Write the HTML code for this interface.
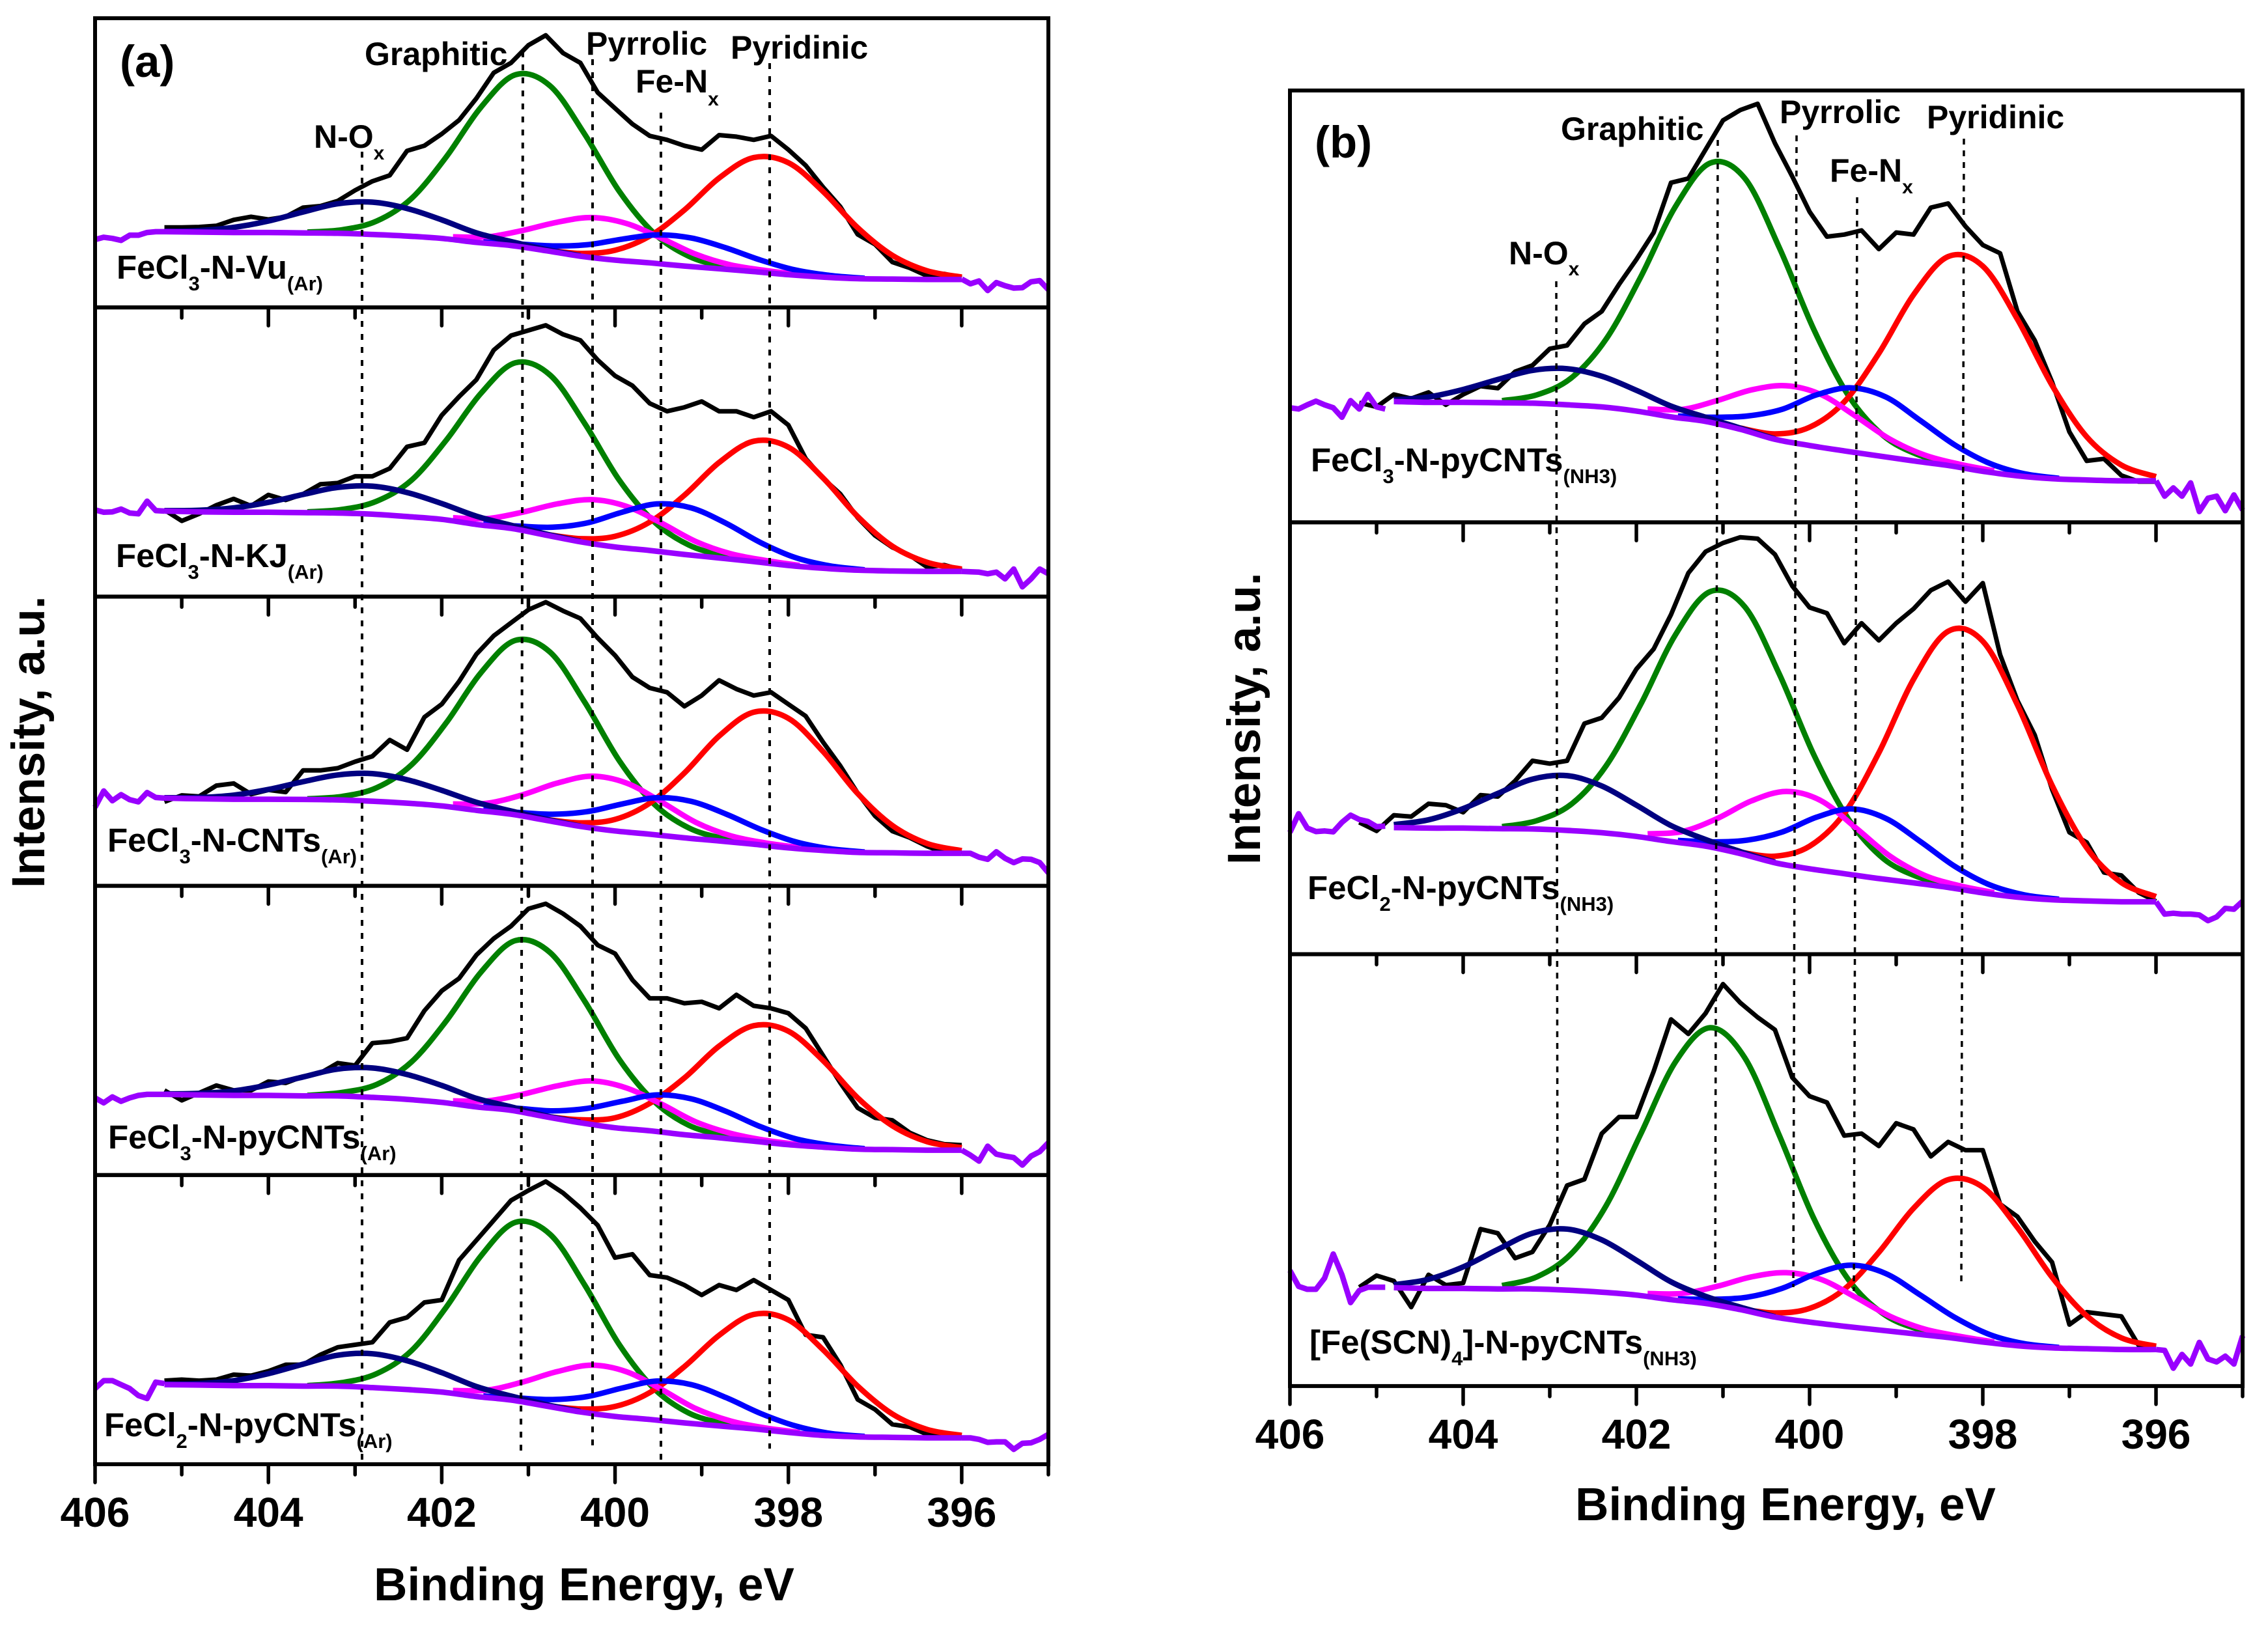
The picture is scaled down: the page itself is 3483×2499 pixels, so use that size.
<!DOCTYPE html>
<html lang="en">
<head>
<meta charset="utf-8">
<title>N 1s XPS spectra</title>
<style>
html,body{margin:0;padding:0;background:#fff}
svg{position:absolute;left:0;top:0;display:block}
text{font-family:"Liberation Sans",Arial,sans-serif;font-weight:bold;fill:#000}
</style>
</head>
<body>
<svg id="chart" xmlns="http://www.w3.org/2000/svg" width="3483" height="2499" viewBox="0 0 3483 2499">
<rect x="0" y="0" width="3483" height="2499" fill="#fff"/>
<g id="marks"></g>
<g id="frames"></g>

<g stroke="#000" stroke-width="4" stroke-dasharray="9 11" fill="none">
<line x1="556" y1="233" x2="556" y2="2248"/>
<line x1="803" y1="79" x2="800" y2="2237"/>
<line x1="910" y1="91" x2="910" y2="2221"/>
<line x1="1015" y1="173" x2="1015" y2="2248"/>
<line x1="1182" y1="97" x2="1182" y2="2225"/>
</g>
<g stroke="#000" stroke-width="3.5" stroke-dasharray="9 9" fill="none">
<line x1="2390" y1="432" x2="2392" y2="1977"/>
<line x1="2638" y1="215" x2="2634" y2="1977"/>
<line x1="2759" y1="208" x2="2754" y2="1977"/>
<line x1="2852" y1="303" x2="2847" y2="1983"/>
<line x1="3016" y1="213" x2="3012" y2="1972"/>
</g>

<text x="184" y="118" font-size="69">(a)</text>
<text x="2019" y="242" font-size="69">(b)</text>

<g font-size="50">
<text x="560" y="100">Graphitic</text>
<text x="900" y="84">Pyrrolic</text>
<text x="1122" y="90">Pyridinic</text>
<text x="976" y="142">Fe-N<tspan font-size="30" dy="20">x</tspan></text>
<text x="482" y="227">N-O<tspan font-size="30" dy="18">x</tspan></text>

<text x="2397" y="215">Graphitic</text>
<text x="2733" y="189">Pyrrolic</text>
<text x="2959" y="197">Pyridinic</text>
<text x="2810" y="279">Fe-N<tspan font-size="30" dy="18">x</tspan></text>
<text x="2317" y="406">N-O<tspan font-size="30" dy="17">x</tspan></text>
</g>

<g font-size="51">
<text x="179" y="428">FeCl<tspan font-size="31" dy="18">3</tspan><tspan dy="-18">-N-Vu</tspan><tspan font-size="31" dy="18">(Ar)</tspan></text>
<text x="178" y="871">FeCl<tspan font-size="31" dy="18">3</tspan><tspan dy="-18">-N-KJ</tspan><tspan font-size="31" dy="18">(Ar)</tspan></text>
<text x="165" y="1308">FeCl<tspan font-size="31" dy="18">3</tspan><tspan dy="-18">-N-CNTs</tspan><tspan font-size="31" dy="18">(Ar)</tspan></text>
<text x="166" y="1764">FeCl<tspan font-size="31" dy="18">3</tspan><tspan dy="-18">-N-pyCNTs</tspan><tspan font-size="31" dy="18">(Ar)</tspan></text>
<text x="160" y="2206">FeCl<tspan font-size="31" dy="18">2</tspan><tspan dy="-18">-N-pyCNTs</tspan><tspan font-size="31" dy="18">(Ar)</tspan></text>

<text x="2013" y="724">FeCl<tspan font-size="31" dy="18">3</tspan><tspan dy="-18">-N-pyCNTs</tspan><tspan font-size="31" dy="18">(NH3)</tspan></text>
<text x="2008" y="1381">FeCl<tspan font-size="31" dy="18">2</tspan><tspan dy="-18">-N-pyCNTs</tspan><tspan font-size="31" dy="18">(NH3)</tspan></text>
<text x="2011" y="2079">[Fe(SCN)<tspan font-size="31" dy="18">4</tspan><tspan dy="-18">]-N-pyCNTs</tspan><tspan font-size="31" dy="18">(NH3)</tspan></text>
</g>

<text x="897" y="2458" font-size="71" text-anchor="middle">Binding Energy, eV</text>
<text x="2742" y="2335" font-size="71" text-anchor="middle">Binding Energy, eV</text>
<text font-size="71" transform="translate(68,1364) rotate(-90)">Intensity, a.u.</text>
<text font-size="71" transform="translate(1935,1328) rotate(-90)">Intensity, a.u.</text>
</svg>

<script>
// ---- energies (eV) ----
const blackEnergy = [405.2,405,404.8,404.6,404.4,404.2,404,403.8,403.6,403.4,403.2,403,402.8,402.6,402.4,402.2,402,401.8,401.6,401.4,401.2,401,400.8,400.6,400.4,400.2,400,399.8,399.6,399.4,399.2,399,398.8,398.6,398.4,398.2,398,397.8,397.6,397.4,397.2,397,396.8,396.6,396.4,396.2,396];
const baseEnergyA = [405.2,404.8,404.4,404,403.6,403.2,402.8,402.4,402,401.6,401.2,400.8,400.4,400,399.6,399.2,398.8,398.4,398,397.6,397.2,396.8,396.4,396];
const baseEnergyB = [404.8,404.4,404,403.6,403.2,402.8,402.4,402,401.6,401.2,400.8,400.4,400,399.6,399.2,398.8,398.4,398,397.6,397.2,396.8,396.4,396];
const greenEnergy = [403.55,403.15,402.75,402.35,401.95,401.55,401.15,400.75,400.35,399.95,399.55,399.15,398.75,398.35];
const redEnergy = [400.8,400.4,400,399.6,399.2,398.8,398.4,398,397.6,397.2,396.8,396.4,396];
const magentaEnergy = [401.87,401.47,401.07,400.67,400.27,399.87,399.47,399.07,398.67,398.27,397.87];
const blueEnergy = [401.52,401.12,400.72,400.32,399.92,399.52,399.12,398.72,398.32,397.92,397.52,397.12];
const navyEnergyA = [405.2,404.8,404.4,404,403.6,403.2,402.8,402.4,402,401.6,401.2,400.8,400.4];
const navyEnergyB = [404.8,404.4,404,403.6,403.2,402.8,402.4,402,401.6,401.2,400.8,400.4];
const leftTailEnergyA = [406,405.9,405.8,405.7,405.6,405.5,405.4,405.3,405.2];
const leftTailEnergyB = [406,405.9,405.8,405.7,405.6,405.5,405.4,405.3,405.2,405.1,405,404.9];
const rightTailEnergy = [396,395.9,395.8,395.7,395.6,395.5,395.4,395.3,395.2,395.1,395];

// ---- axis ticks ----
const tickEnergies = [406,405,404,403,402,401,400,399,398,397,396,395];
const tickLabels = ['406','404','402','400','398','396'];
const panelFullScale = [733.3,733.3,1332.6,581,581,1040,1507,1040];

// ---- FeCl3-N-Vu(Ar) ----
const a1Black = [203,203,204,207,222,230,223,230,253,257,270,297,320,335,397,410,440,475,530,595,620,665,690,645,620,545,505,465,435,425,410,400,437,433,425,435,400,360,305,255,185,160,115,100,80,85,75];
const a1Base = [192,191,190,190,189,188,185,181,175,165,157,144,130,120,113,105,98,91,83,77,73,72,71,71];
const a1Green = [191,197,219,276,381,507,590,562,439,294,188,130,104,92];
const a1Red = [146,137,145,181,247,328,380,367,294,202,132,93,77];
const a1Magenta = [179,179,195,216,228,213,176,135,108,94,83];
const a1Blue = [166,161,156,159,173,184,176,151,120,95,81,74];
const a1Navy = [193,195,203,219,242,263,267,251,222,189,167,147,131];
const a1TailL = [172,178,175,170,183,183,190,192,192];
const a1TailR = [72,60,67,43,63,55,49,50,65,68,45];

// ---- FeCl3-N-KJ(Ar) ----
const a2Black = [220,192,210,232,248,230,258,245,260,285,288,305,305,325,380,390,460,507,550,625,662,675,688,665,650,600,560,535,490,470,480,495,470,470,455,470,435,350,300,260,200,155,125,105,75,80,68];
const a2Base = [217,215,214,214,213,212,209,203,196,183,173,156,139,126,117,107,98,89,79,72,67,65,64,64];
const a2Green = [215,221,242,295,396,515,593,562,439,295,190,131,104,90];
const a2Red = [158,147,153,189,257,340,394,379,301,203,128,87,70];
const a2Magenta = [200,198,214,235,246,229,187,140,109,92,79];
const a2Blue = [184,179,176,187,214,235,225,186,137,99,78,68];
const a2Navy = [218,219,225,239,259,277,280,264,236,204,181,159,140];
const a2TailL = [220,214,215,222,212,210,242,218,217];
const a2TailR = [64,63,62,58,62,45,70,25,45,70,58];

// ---- FeCl3-N-CNTs(Ar) ----
const a3Black = [387,417,412,462,472,422,442,432,532,532,542,572,597,672,627,777,837,942,1067,1152,1212,1272,1307,1267,1232,1142,1062,962,912,892,827,877,947,907,877,892,837,782,662,552,427,322,252,222,182,152,157];
const a3Base = [404,401,399,399,398,396,390,381,368,348,330,302,274,253,238,221,207,192,175,163,154,152,150,150];
const a3Green = [401,412,452,557,750,981,1131,1077,846,576,377,267,218,194];
const a3Red = [306,290,306,381,520,690,800,772,619,425,278,195,162];
const a3Magenta = [377,381,419,473,505,474,388,293,231,198,176];
const a3Blue = [350,338,330,342,377,406,389,331,260,203,171,156];
const a3Navy = [406,407,418,444,480,511,517,489,440,385,345,307,275];
const a3TailL = [362,437,392,420,397,387,430,407,404];
const a3TailR = [150,150,132,122,157,127,107,124,122,107,60];

// ---- FeCl3-N-pyCNTs(Ar) ----
const a4Black = [170,150,165,180,170,170,188,185,198,205,225,220,265,268,275,330,370,395,442,475,500,535,545,525,500,462,445,392,355,355,345,348,335,362,340,335,325,295,240,185,135,115,110,85,70,62,60];
const a4Base = [162,161,160,160,159,159,156,152,146,137,130,117,105,95,89,81,75,68,61,56,52,51,50,50];
const a4Green = [160,166,182,227,309,407,471,447,349,232,148,100,80,69];
const a4Red = [118,111,115,144,195,259,300,289,230,155,99,67,55];
const a4Magenta = [149,149,162,179,189,175,143,107,84,70,61];
const a4Blue = [138,134,129,134,148,161,153,128,97,73,60,53];
const a4Navy = [163,164,169,181,197,213,215,202,180,154,137,119,106];
const a4TailL = [155,145,157,148,155,160,162,162,162];
const a4TailR = [50,40,28,58,42,38,35,20,38,47,65];

// ---- FeCl2-N-pyCNTs(Ar) ----
const a5Black = [168,170,168,170,180,178,187,200,200,220,235,240,245,285,295,325,330,410,450,490,530,550,568,545,515,480,415,422,380,375,360,340,360,350,370,350,330,260,255,200,130,110,80,75,60,55,55];
const a5Base = [160,159,158,158,157,157,154,150,145,136,129,117,105,96,90,83,77,71,64,58,55,54,53,53];
const a5Green = [158,164,182,228,315,418,486,462,360,240,152,103,82,72];
const a5Red = [118,111,116,144,196,259,301,290,230,157,101,70,58];
const a5Magenta = [148,149,165,186,199,186,151,112,87,73,64];
const a5Blue = [137,133,130,136,153,167,160,134,102,77,62,56];
const a5Navy = [161,162,168,182,201,219,222,208,184,156,137,120,106];
const a5TailL = [152,168,168,160,152,138,132,165,162];
const a5TailR = [53,53,50,44,45,45,30,42,43,50,60];

// ---- FeCl3-N-pyCNTs(NH3) ----
const b1Black = [288,278,308,298,313,283,308,328,323,363,378,418,426,478,508,573,633,698,818,828,898,968,993,1008,913,833,748,688,693,703,658,698,693,758,768,713,668,648,508,438,338,218,148,153,113,98,98];
const b1Base = [291,289,289,288,287,283,278,268,254,243,224,200,185,172,160,148,137,123,112,105,102,100,100];
const b1Green = [293,307,348,441,591,760,865,829,662,464,305,209,163,140];
const b1Red = [227,213,229,290,407,548,640,617,489,330,206,138,110];
const b1Magenta = [273,272,293,319,329,308,256,200,162,140,124];
const b1Blue = [256,253,256,272,307,324,302,245,186,142,117,106];
const b1Navy = [295,302,320,344,366,370,352,318,280,253,227,201];
const b1TailL = [276,273,283,292,283,276,253,293,273,308,278,273];
const b1TailR = [100,63,83,63,95,26,58,63,28,66,30];

// ---- FeCl2-N-pyCNTs(NH3) ----
const b2Black = [460,430,485,480,525,520,495,555,550,605,675,665,675,805,825,895,995,1065,1185,1330,1405,1435,1455,1450,1395,1285,1210,1190,1085,1155,1095,1155,1205,1270,1300,1230,1295,1045,885,765,575,425,390,285,275,215,185];
const b2Base = [442,440,440,438,437,432,424,411,393,377,351,319,298,281,264,249,233,214,199,190,186,183,183];
const b2Green = [445,466,524,657,872,1114,1265,1213,978,695,471,334,270,238];
const b2Red = [356,342,377,491,703,959,1127,1092,870,589,371,250,201];
const b2Magenta = [420,428,473,535,568,536,442,342,275,239,215];
const b2Blue = [397,392,398,426,478,507,474,393,306,242,207,192];
const b2Navy = [452,469,508,561,611,623,587,520,449,400,358,321];
const b2TailL = [425,490,440,428,430,427,460,485,470,463,445,447];
const b2TailR = [183,140,143,140,140,137,117,130,160,157,185];

// ---- [Fe(SCN)4]-N-pyCNTs(NH3) ----
const b3Black = [238,266,253,190,268,243,248,378,368,308,323,388,483,498,608,648,648,758,883,848,898,968,923,888,858,743,698,683,603,608,578,633,618,553,588,568,568,438,408,348,298,148,178,173,168,98,93];
const b3Base = [237,235,235,234,234,231,226,219,208,199,184,166,154,144,135,126,117,106,97,92,90,88,88];
const b3Green = [242,263,319,434,607,780,863,791,604,403,256,174,137,119];
const b3Red = [186,176,187,233,322,428,497,479,382,262,169,116,96];
const b3Magenta = [223,223,240,263,273,257,214,168,137,120,106];
const b3Blue = [210,209,214,235,271,291,271,219,165,124,102,93];
const b3Navy = [244,257,287,329,368,378,352,303,251,216,190,167];
const b3TailL = [278,240,233,233,260,318,268,201,230,238,238,238];
const b3TailR = [88,86,43,76,53,105,65,58,72,53,121];

// ---- layout ----
const NS = 'http://www.w3.org/2000/svg';
const colA = {id:'a', left:146, right:1610, top:28, panelH:444.2, count:5, tickBase:2345, baseEnergy:baseEnergyA, navyEnergy:navyEnergyA, leftEnergy:leftTailEnergyA};
const colB = {id:'b', left:1981, right:3444, top:139, panelH:663.3, count:3, tickBase:2225, baseEnergy:baseEnergyB, navyEnergy:navyEnergyB, leftEnergy:leftTailEnergyB};

const panels = [
 {col:colA,row:0,scale:panelFullScale[0],black:a1Black,base:a1Base,green:a1Green,red:a1Red,magenta:a1Magenta,blue:a1Blue,navy:a1Navy,tailL:a1TailL,tailR:a1TailR},
 {col:colA,row:1,scale:panelFullScale[1],black:a2Black,base:a2Base,green:a2Green,red:a2Red,magenta:a2Magenta,blue:a2Blue,navy:a2Navy,tailL:a2TailL,tailR:a2TailR},
 {col:colA,row:2,scale:panelFullScale[2],black:a3Black,base:a3Base,green:a3Green,red:a3Red,magenta:a3Magenta,blue:a3Blue,navy:a3Navy,tailL:a3TailL,tailR:a3TailR},
 {col:colA,row:3,scale:panelFullScale[3],black:a4Black,base:a4Base,green:a4Green,red:a4Red,magenta:a4Magenta,blue:a4Blue,navy:a4Navy,tailL:a4TailL,tailR:a4TailR},
 {col:colA,row:4,scale:panelFullScale[4],black:a5Black,base:a5Base,green:a5Green,red:a5Red,magenta:a5Magenta,blue:a5Blue,navy:a5Navy,tailL:a5TailL,tailR:a5TailR},
 {col:colB,row:0,scale:panelFullScale[5],black:b1Black,base:b1Base,green:b1Green,red:b1Red,magenta:b1Magenta,blue:b1Blue,navy:b1Navy,tailL:b1TailL,tailR:b1TailR},
 {col:colB,row:1,scale:panelFullScale[6],black:b2Black,base:b2Base,green:b2Green,red:b2Red,magenta:b2Magenta,blue:b2Blue,navy:b2Navy,tailL:b2TailL,tailR:b2TailR},
 {col:colB,row:2,scale:panelFullScale[7],black:b3Black,base:b3Base,green:b3Green,red:b3Red,magenta:b3Magenta,blue:b3Blue,navy:b3Navy,tailL:b3TailL,tailR:b3TailR}
];

function xAxis(col, energy){
  return col.left + (406 - energy) * (col.right - col.left) / 11;
}
function yAxis(panel, value){
  const bottom = panel.col.top + panel.col.panelH * (panel.row + 1);
  return bottom - value / panel.scale * panel.col.panelH;
}
function toPoints(panel, energies, values){
  return energies.map(function(e, i){
    return [xAxis(panel.col, e), yAxis(panel, values[i])];
  });
}
function rawPath(pts){
  return pts.map(function(p, i){
    return (i ? 'L' : 'M') + p[0].toFixed(1) + ' ' + p[1].toFixed(1);
  }).join('');
}
function smoothPath(pts){
  let d = 'M' + pts[0][0].toFixed(1) + ' ' + pts[0][1].toFixed(1);
  for (let i = 0; i < pts.length - 1; i++){
    const p0 = pts[Math.max(i - 1, 0)], p1 = pts[i], p2 = pts[i + 1], p3 = pts[Math.min(i + 2, pts.length - 1)];
    const c1x = p1[0] + (p2[0] - p0[0]) / 6, c1y = p1[1] + (p2[1] - p0[1]) / 6;
    const c2x = p2[0] - (p3[0] - p1[0]) / 6, c2y = p2[1] - (p3[1] - p1[1]) / 6;
    d += 'C' + c1x.toFixed(1) + ' ' + c1y.toFixed(1) + ' ' + c2x.toFixed(1) + ' ' + c2y.toFixed(1) + ' ' + p2[0].toFixed(1) + ' ' + p2[1].toFixed(1);
  }
  return d;
}
function addCurve(parent, name, d, color, width){
  const el = document.createElementNS(NS, 'path');
  
  
  el.setAttribute('d', d);
  el.setAttribute('fill', 'none');
  el.setAttribute('stroke', color);
  el.setAttribute('stroke-width', width);
  el.setAttribute('stroke-linejoin', 'round');
  parent.appendChild(el);
}

const marks = document.getElementById('marks');
const frames = document.getElementById('frames');

panels.forEach(function(p){
  const tag = p.col.id + (p.row + 1);
  const g = document.createElementNS(NS, 'g');
  
  
  marks.appendChild(g);
  addCurve(g, 'raw-spectrum-' + tag, rawPath(toPoints(p, blackEnergy, p.black)), '#000', 7);
  addCurve(g, 'graphitic-fit-' + tag, smoothPath(toPoints(p, greenEnergy, p.green)), '#008000', 8.5);
  addCurve(g, 'pyridinic-fit-' + tag, smoothPath(toPoints(p, redEnergy, p.red)), '#ff0000', 8.5);
  addCurve(g, 'pyrrolic-fit-' + tag, smoothPath(toPoints(p, magentaEnergy, p.magenta)), '#ff00ff', 8.5);
  addCurve(g, 'fenx-fit-' + tag, smoothPath(toPoints(p, blueEnergy, p.blue)), '#0000ff', 8.5);
  addCurve(g, 'nox-fit-' + tag, smoothPath(toPoints(p, p.col.navyEnergy, p.navy)), '#000080', 8.5);
  addCurve(g, 'baseline-' + tag, smoothPath(toPoints(p, p.col.baseEnergy, p.base)), '#9900ff', 8.5);
  addCurve(g, 'baseline-left-tail-' + tag, rawPath(toPoints(p, p.col.leftEnergy, p.tailL)), '#9900ff', 8.5);
  addCurve(g, 'baseline-right-tail-' + tag, rawPath(toPoints(p, rightTailEnergy, p.tailR)), '#9900ff', 8.5);
});

[colA, colB].forEach(function(col){
  for (let r = 0; r < col.count; r++){
    const top = col.top + col.panelH * r;
    const rect = document.createElementNS(NS, 'rect');
    
    
    rect.setAttribute('x', col.left);
    rect.setAttribute('y', top);
    rect.setAttribute('width', col.right - col.left);
    rect.setAttribute('height', col.panelH);
    rect.setAttribute('fill', 'none');
    rect.setAttribute('stroke', '#000');
    rect.setAttribute('stroke-width', 6);
    frames.appendChild(rect);
    tickEnergies.forEach(function(e){
      const major = e % 2 === 0;
      const x = xAxis(col, e);
      const y0 = top + col.panelH;
      const tick = document.createElementNS(NS, 'line');
      
      
      tick.setAttribute('x1', x);
      tick.setAttribute('x2', x);
      tick.setAttribute('y1', y0);
      tick.setAttribute('y2', y0 + (major ? 28 : 16));
      tick.setAttribute('stroke', '#000');
      tick.setAttribute('stroke-width', 5.5);
      tick.setAttribute('stroke-linecap', 'round');
      frames.appendChild(tick);
    });
  }
  tickLabels.forEach(function(label){
    const t = document.createElementNS(NS, 'text');
    
    
    t.setAttribute('x', xAxis(col, Number(label)));
    t.setAttribute('y', col.tickBase);
    t.setAttribute('font-size', 64);
    t.setAttribute('text-anchor', 'middle');
    t.textContent = label;
    frames.appendChild(t);
  });
});
</script>
</body>
</html>
